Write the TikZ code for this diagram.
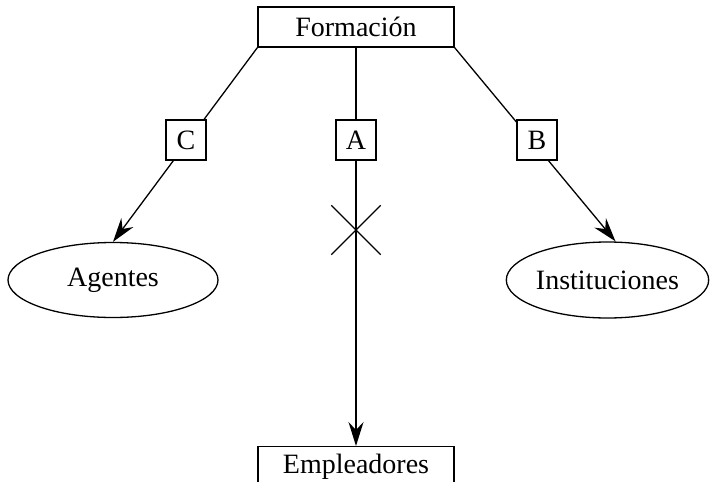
\documentclass[tikz,border=0pt]{standalone}
\usepackage{fontspec}
\setmainfont{Liberation Serif}
\usetikzlibrary{arrows.meta,shapes.misc,shapes.geometric}
\begin{document}
\begin{tikzpicture}[x=1pt,y=-1pt, line width=1.3pt,
  every node/.style={font=\fontsize{28}{33}\selectfont, inner sep=0pt},
  bigbox/.style={draw, minimum width=196pt, minimum height=40pt},
  tag/.style={draw, fill=white, minimum width=40pt, minimum height=40pt},
  oval/.style={draw, ellipse, inner sep=0pt},
  arr/.style={-{Stealth[length=24pt,width=15pt,inset=8pt]}}]
\clip (0,0) rectangle (710,482);
\node[bigbox] (F) at (356,27) {Formación};
\node[bigbox, anchor=north] (E) at (356,446) {Empleadores};
\node[oval, minimum width=210pt, minimum height=75pt] (G) at (113,280) {Agentes};
\node[oval, minimum width=201pt, minimum height=76pt] (I) at (607.5,280) {Instituciones};
\draw[arr] (F.south west) -- (G.north);
\draw[arr] (F.south east) -- ([xshift=8pt]I.north);
\draw[arr] (F.south) -- (E.north);
\node[draw, cross out, minimum size=48pt, inner sep=0pt] (X) at (356,230) {};
\node[tag] (C) at (186,140) {C};
\node[tag] (A) at (356,140) {A};
\node[tag] (B) at (537,140) {B};
\end{tikzpicture}
\end{document}
